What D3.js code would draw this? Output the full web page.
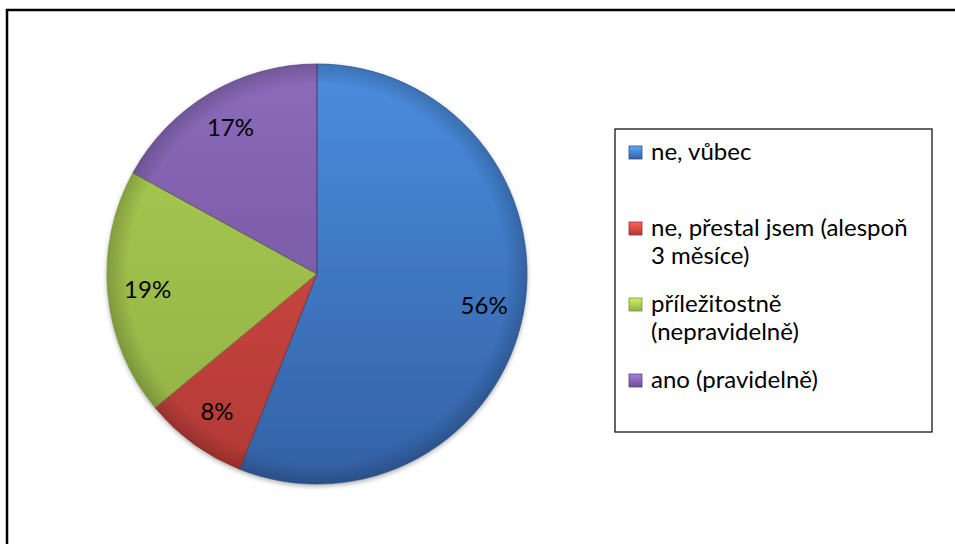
<!DOCTYPE html>
<html lang="cs">
<head>
  <meta charset="UTF-8">
  <title>Pie chart</title>
  <script src="https://d3js.org/d3.v7.min.js"></script>
  <style>
    body { margin: 0; background: #fff; }
    svg { display: block; }
    text { font-family: Lato, "Open Sans", sans-serif; fill: #000; }
  </style>
</head>
<body>
  <svg width="955" height="544"></svg>

  <script>
    const categories = ["ne, vůbec", "ne, přestal jsem (alespoň 3 měsíce)", "příležitostně (nepravidelně)", "ano (pravidelně)"];
    const values = [56, 8, 19, 17];
    const topColors = ["#4a8ddf", "#d9504b", "#abcc52", "#8c6bbb"];
    const bottomColors = ["#3361a4", "#b23834", "#90b044", "#6c4f96"];

    const svg = d3.select("svg");
    const width = +svg.attr("width");
    const height = +svg.attr("height");

    const cx = 317, cy = 274, r = 210;
    const defs = svg.append("defs");

    // chart area frame (runs off the right and bottom edge)
    svg.append("rect")
      .attr("x", 7).attr("y", 10)
      .attr("width", width + 20).attr("height", height + 20)
      .attr("fill", "none").attr("stroke", "#000").attr("stroke-width", 2.5);

    // slice gradients, light on top and darker at the bottom
    categories.forEach((c, i) => {
      const g = defs.append("linearGradient")
        .attr("id", "grad" + i)
        .attr("gradientUnits", "userSpaceOnUse")
        .attr("x1", 0).attr("y1", -r).attr("x2", 0).attr("y2", r);
      g.append("stop").attr("offset", "0%").attr("stop-color", topColors[i]);
      g.append("stop").attr("offset", "100%").attr("stop-color", bottomColors[i]);

      const m = defs.append("linearGradient")
        .attr("id", "mark" + i)
        .attr("x1", 0).attr("y1", 0).attr("x2", 0).attr("y2", 1);
      m.append("stop").attr("offset", "0%").attr("stop-color", d3.color(topColors[i]).brighter(0.5));
      m.append("stop").attr("offset", "100%").attr("stop-color", bottomColors[i]);
    });

    const rim = defs.append("radialGradient").attr("id", "rim")
      .attr("gradientUnits", "userSpaceOnUse")
      .attr("cx", 0).attr("cy", 0).attr("r", r);
    rim.append("stop").attr("offset", "0.9").attr("stop-color", "#000").attr("stop-opacity", 0);
    rim.append("stop").attr("offset", "1").attr("stop-color", "#000").attr("stop-opacity", 0.18);

    const shadow = defs.append("filter").attr("id", "shadow")
      .attr("x", "-10%").attr("y", "-10%").attr("width", "120%").attr("height", "120%");
    shadow.append("feDropShadow")
      .attr("dx", 0).attr("dy", 2).attr("stdDeviation", 2.5)
      .attr("flood-color", "#000").attr("flood-opacity", 0.35);

    const pie = d3.pie().sort(null).value(d => d);
    const arcs = pie(values);
    const arc = d3.arc().innerRadius(0).outerRadius(r);
    const labelArc = d3.arc().innerRadius(r * 0.81).outerRadius(r * 0.81);

    const g = svg.append("g").attr("transform", `translate(${cx},${cy})`);

    g.append("g").attr("filter", "url(#shadow)")
      .selectAll("path")
      .data(arcs).enter().append("path")
      .attr("d", arc)
      .attr("fill", (d, i) => `url(#grad${i})`);

    g.append("g").selectAll("path")
      .data(arcs).enter().append("path")
      .attr("d", arc)
      .attr("fill", "url(#rim)")
      .attr("stroke", (d, i) => d3.color(bottomColors[i]).darker(0.6))
      .attr("stroke-opacity", 0.7)
      .attr("stroke-width", 1);

    g.append("g").selectAll("text")
      .data(arcs).enter().append("text")
      .attr("transform", d => `translate(${labelArc.centroid(d)})`)
      .attr("text-anchor", "middle")
      .attr("dy", "0.35em")
      .attr("font-size", 24)
      .text(d => d.data + "%");

    // legend
    const lx = 615, ly = 129, lw = 317, lh = 303;
    const legend = svg.append("g");
    legend.append("rect")
      .attr("x", lx).attr("y", ly).attr("width", lw).attr("height", lh)
      .attr("fill", "#fff").attr("stroke", "#000").attr("stroke-width", 1.2);

    const yLegend = d3.scalePoint().domain(categories).range([160, 388]);
    const maxText = lw - 44;

    const item = legend.selectAll("g.item")
      .data(categories).enter().append("g")
      .attr("class", "item")
      .attr("transform", d => `translate(0,${yLegend(d)})`);

    item.append("rect")
      .attr("x", 629).attr("y", -14).attr("width", 13).attr("height", 13)
      .attr("fill", (d, i) => `url(#mark${i})`)
      .attr("stroke", (d, i) => d3.color(bottomColors[i]).darker(0.5))
      .attr("stroke-width", 0.8);

    item.each(function(d) {
      const text = d3.select(this).append("text")
        .attr("x", 651).attr("font-size", 24);
      const words = d.split(" ");
      let line = [];
      let tspan = text.append("tspan").attr("x", 651).attr("dy", 0);
      words.forEach(w => {
        line.push(w);
        tspan.text(line.join(" "));
        if (tspan.node().getComputedTextLength() > maxText && line.length > 1) {
          line.pop();
          tspan.text(line.join(" "));
          line = [w];
          tspan = text.append("tspan").attr("x", 651).attr("dy", 28).text(w);
        }
      });
    });
  </script>
</body>
</html>
